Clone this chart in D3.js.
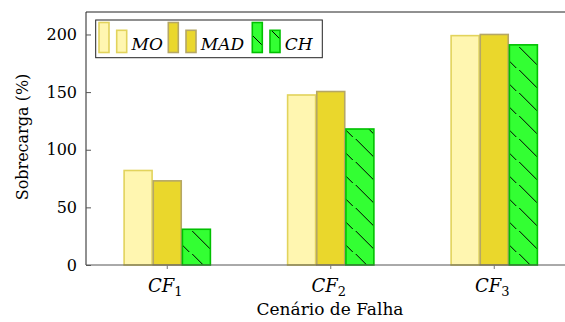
<!DOCTYPE html>
<html>
<head>
<meta charset="utf-8">
<script src="https://cdn.jsdelivr.net/npm/d3@7"></script>
<style>
  body { margin: 0; background: #fff; }
</style>
</head>
<body>
<svg id="chart" width="565" height="322"></svg>
<script>
// data
var categories = ["1", "2", "3"];           // CF subscripts
var seriesNames = ["MO", "MAD", "CH"];
// per category: MO, MAD, CH
var values = [
  [82, 73, 31],
  [147.5, 150.5, 118],
  [199, 200, 191]
];
var yTicks = [0, 50, 100, 150, 200];

var fills   = ["#fff6b0", "#ead72c", "#33ff33"];
var strokes = ["#e2d35c", "#b5a765", "#00c000"];
var serif = "'DejaVu Serif', serif";

var svg = d3.select("#chart");

var x = d3.scaleBand().domain(categories).range([85.5, 576]).padding(0);
var xs = d3.scaleBand().domain(seriesNames).range([-44.3, 44.3]).padding(0.04);
var y = d3.scaleLinear().domain([0, 219.5]).range([265, 12]);

// hatch pattern for CH
var defs = svg.append("defs");
var pat = defs.append("pattern")
  .attr("id", "hatch")
  .attr("patternUnits", "userSpaceOnUse")
  .attr("width", 24).attr("height", 23);
pat.append("rect").attr("width", 24).attr("height", 23).attr("fill", fills[2]);
pat.append("line")
  .attr("x1", 1).attr("y1", 1).attr("x2", 22).attr("y2", 22)
  .attr("stroke", "#000").attr("stroke-width", 1);

function fillFor(i) { return i == 2 ? "url(#hatch)" : fills[i]; }

// frame: top + left line (right edge falls off the picture)
svg.append("path")
  .attr("d", "M86,265 V12 H570")
  .attr("fill", "none").attr("stroke", "#222").attr("stroke-width", 1);

// bars
var groups = svg.selectAll("g.cat")
  .data(categories)
  .enter().append("g")
  .attr("class", "cat")
  .attr("transform", function (d) { return "translate(" + (x(d) + x.bandwidth() / 2) + ",0)"; });

groups.selectAll("rect")
  .data(function (d, ci) {
    return seriesNames.map(function (s, si) { return { s: s, si: si, v: values[ci][si] }; });
  })
  .enter().append("rect")
  .attr("x", function (d) { return xs(d.s); })
  .attr("width", xs.bandwidth())
  .attr("y", function (d) { return y(d.v); })
  .attr("height", function (d) { return y(0) - y(d.v); })
  .attr("fill", function (d) { return fillFor(d.si); })
  .attr("stroke", function (d) { return strokes[d.si]; })
  .attr("stroke-width", 1.6);

// x axis
svg.append("line")
  .attr("x1", 86).attr("x2", 570).attr("y1", 265).attr("y2", 265)
  .attr("stroke", "#555").attr("stroke-width", 1);

var xAxis = d3.axisBottom(x).tickSize(4).tickFormat("");
svg.append("g")
  .attr("transform", "translate(0,265)")
  .call(xAxis)
  .call(function (g) {
    g.select(".domain").remove();
    g.selectAll(".tick line").attr("stroke", "#777");
  });

// x tick labels: CF with subscript
categories.forEach(function (c) {
  var t = svg.append("text")
    .style("font-family", serif)
    .attr("x", x(c) + x.bandwidth() / 2 - 2)
    .attr("y", 292)
    .attr("text-anchor", "middle")
    .attr("font-size", 18);
  t.append("tspan").attr("font-style", "italic").text("CF");
  t.append("tspan").attr("font-size", 13).attr("dy", 4).text(c);
});

// y axis
var yAxis = d3.axisLeft(y).tickValues(yTicks).tickSize(-5).tickPadding(9);
svg.append("g")
  .attr("transform", "translate(86,0)")
  .call(yAxis)
  .call(function (g) {
    g.select(".domain").remove();
    g.selectAll(".tick line").attr("stroke", "#555");
    g.selectAll(".tick text")
      .style("font-family", serif)
      .attr("font-size", 16)
      .attr("fill", "#000");
  });

// axis titles
svg.append("text")
  .style("font-family", serif)
  .attr("transform", "translate(28,137) rotate(-90)")
  .attr("text-anchor", "middle")
  .attr("font-size", 16)
  .text("Sobrecarga (%)");

svg.append("text")
  .style("font-family", serif)
  .attr("x", 330).attr("y", 315)
  .attr("text-anchor", "middle")
  .attr("font-size", 17)
  .text("Cenário de Falha");

// legend
var legendX = [99, 168.3, 252.3];
svg.append("rect")
  .attr("x", 95.7).attr("y", 20)
  .attr("width", 226.6).attr("height", 37.7)
  .attr("fill", "#fff").attr("stroke", "#222").attr("stroke-width", 1);

seriesNames.forEach(function (s, i) {
  var lx = legendX[i];
  var g = svg.append("g");
  g.append("rect")
    .attr("x", lx).attr("y", 22.5).attr("width", 10).attr("height", 30)
    .attr("fill", fillFor(i)).attr("stroke", strokes[i]).attr("stroke-width", 1.6);
  g.append("rect")
    .attr("x", lx + 17.7).attr("y", 30.3).attr("width", 10).attr("height", 22.2)
    .attr("fill", fillFor(i)).attr("stroke", strokes[i]).attr("stroke-width", 1.6);
  g.append("text")
    .style("font-family", serif)
    .attr("x", lx + 32.5).attr("y", 49.5)
    .attr("font-size", 17).attr("font-style", "italic")
    .text(s);
});
</script>
</body>
</html>
